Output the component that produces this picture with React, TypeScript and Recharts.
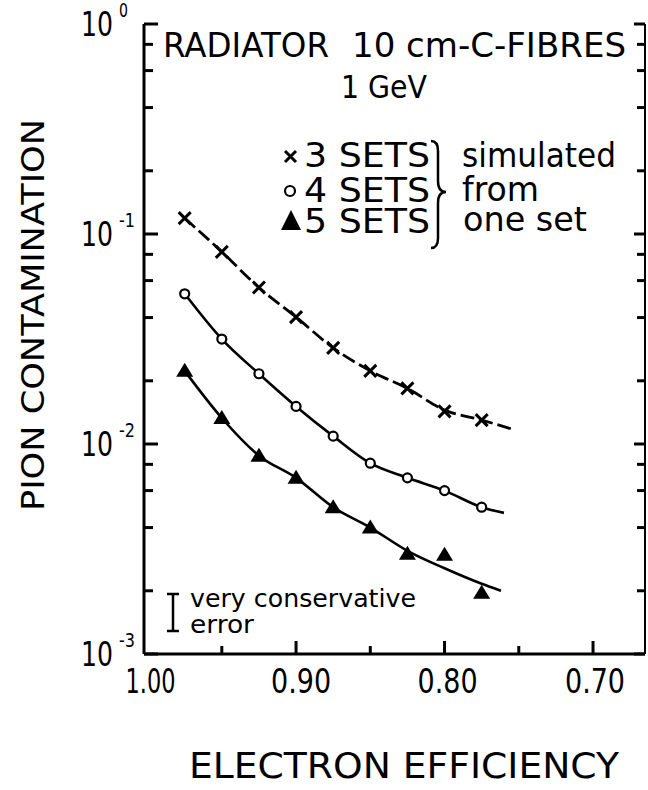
import { ComposedChart, Line, Scatter, XAxis, YAxis } from 'recharts';

// electron efficiency of the measured points
const efficiency = [0.975, 0.95, 0.925, 0.9, 0.875, 0.85, 0.825, 0.8, 0.775];

// pion contamination
const sets3 = [0.119, 0.0822, 0.0556, 0.0402, 0.0287, 0.0223, 0.0184, 0.0143, 0.013];
const sets4 = [0.0519, 0.0316, 0.0216, 0.0151, 0.0109, 0.0081, 0.0069, 0.006, 0.005];
const sets5 = [0.0223, 0.0133, 0.0088, 0.0069, 0.005, 0.004, 0.003, 0.00297, 0.00196];

// hand drawn fit curves
const fitEff3 = [0.975, 0.95, 0.925, 0.9, 0.875, 0.85, 0.825, 0.8, 0.775, 0.755];
const fit3 = [0.119, 0.0822, 0.0556, 0.0402, 0.0287, 0.0223, 0.0184, 0.0145, 0.013, 0.0118];
const fitEff4 = [0.975, 0.95, 0.925, 0.9, 0.875, 0.85, 0.825, 0.8, 0.775, 0.76];
const fit4 = [0.0519, 0.0316, 0.0216, 0.0151, 0.0109, 0.0081, 0.0069, 0.006, 0.005, 0.0047];
const fitEff5 = [0.975, 0.95, 0.925, 0.9, 0.875, 0.85, 0.825, 0.8, 0.775, 0.762];
const fit5 = [0.0223, 0.0133, 0.0088, 0.0069, 0.005, 0.004, 0.0031, 0.00256, 0.00216, 0.002];

const yTicks = [1, 0.8, 0.6, 0.4, 0.2, 0.1, 0.08, 0.06, 0.04, 0.02, 0.01, 0.008, 0.006, 0.004, 0.002, 0.001];
const yMajor = [1, 0.1, 0.01, 0.001];
const yExponents = ['0', '-1', '-2', '-3'];
const xTicks = [1.0, 0.95, 0.9, 0.85, 0.8, 0.75, 0.7];
const xMajor = [1.0, 0.9, 0.8, 0.7];
const xLabels = ['1.00', '0.90', '0.80', '0.70'];

const FONT = 'DejaVu Sans';

const pts = (xs: number[], ys: number[]) => xs.map((x, i) => ({ x, y: ys[i] }));
const idx = (arr: number[], v: number) => arr.findIndex((a) => Math.abs(a - v) < 1e-9);

function LeftTick({ x, y, payload }: any) {
  const i = idx(yMajor, payload.value);
  const major = i >= 0;
  const exp = yExponents[i] || '';
  return (
    <g>
      <line x1={x} x2={x + (major ? 14 : 9)} y1={y} y2={y} stroke="#000" strokeWidth={3} />
      {major && (
        <text x={x - 63} y={y + 12} fontFamily={FONT}>
          <tspan fontSize={34} textLength={32} lengthAdjust="spacingAndGlyphs">10</tspan>
          <tspan dx={6} dy={-19} fontSize={19} textLength={exp.length > 1 ? 16 : 9} lengthAdjust="spacingAndGlyphs">{exp}</tspan>
        </text>
      )}
    </g>
  );
}

function RightTick({ x, y, payload }: any) {
  const major = idx(yMajor, payload.value) >= 0;
  return <line x1={x} x2={x - (major ? 11 : 8)} y1={y} y2={y} stroke="#000" strokeWidth={3} />;
}

function BottomTick({ x, y, payload }: any) {
  const i = idx(xMajor, payload.value);
  const major = i >= 0;
  const shift = [3, 5, 3, 2][i] || 0;
  return (
    <g>
      {payload.value < 0.999 && (
        <line x1={x} x2={x} y1={y} y2={y - (major ? 13 : 8)} stroke="#000" strokeWidth={3} />
      )}
      {major && (
        <text x={x + shift} y={y + 39} textAnchor="middle" fontSize={34} fontFamily={FONT} textLength={i === 0 ? 50 : 60} lengthAdjust="spacingAndGlyphs">
          {xLabels[i]}
        </text>
      )}
    </g>
  );
}

const Cross = ({ cx, cy }: any) => (
  <path d={`M${cx - 6},${cy - 6}L${cx + 6},${cy + 6}M${cx - 6},${cy + 6}L${cx + 6},${cy - 6}`} stroke="#000" strokeWidth={3} />
);
const Ring = ({ cx, cy }: any) => <circle cx={cx} cy={cy} r={4.5} fill="#fff" stroke="#000" strokeWidth={2.2} />;
const Tri = ({ cx, cy }: any) => (
  <path d={`M${cx},${cy - 8}L${cx + 8.5},${cy + 6}L${cx - 8.5},${cy + 6}Z`} fill="#000" />
);

export default function App() {
  return (
    <div style={{ position: 'absolute', left: 0, top: 0, width: 648, height: 790, background: '#fff' }}>
      <ComposedChart width={648} height={790} margin={{ top: 24, right: 0, left: 84, bottom: 96 }}>
        <XAxis
          dataKey="x"
          type="number"
          domain={[0.665, 1.0024]}
          reversed
          allowDataOverflow
          ticks={xTicks}
          interval={0}
          height={40}
          tickSize={0}
          tickMargin={0}
          tick={<BottomTick />}
          axisLine={{ stroke: '#000', strokeWidth: 3 }}
        />
        <XAxis
          xAxisId="top"
          orientation="top"
          type="number"
          domain={[0.665, 1.0024]}
          reversed
          height={0}
          tick={false}
          tickLine={false}
          axisLine={{ stroke: '#000', strokeWidth: 3 }}
        />
        <YAxis
          type="number"
          scale="log"
          domain={[0.001, 1]}
          allowDataOverflow
          ticks={yTicks}
          interval={0}
          width={60}
          tickSize={0}
          tickMargin={0}
          tick={<LeftTick />}
          axisLine={{ stroke: '#000', strokeWidth: 3 }}
        />
        <YAxis
          yAxisId="right"
          orientation="right"
          type="number"
          scale="log"
          domain={[0.001, 1]}
          allowDataOverflow
          ticks={yTicks}
          interval={0}
          width={3}
          tickSize={0}
          tickMargin={0}
          tick={<RightTick />}
          axisLine={{ stroke: '#000', strokeWidth: 2 }}
        />
        <Line data={pts(fitEff3, fit3)} dataKey="y" type="monotone" stroke="#000" strokeWidth={2.8} strokeDasharray="14 5" dot={false} isAnimationActive={false} />
        <Line data={pts(fitEff4, fit4)} dataKey="y" type="monotone" stroke="#000" strokeWidth={2.6} dot={false} isAnimationActive={false} />
        <Line data={pts(fitEff5, fit5)} dataKey="y" type="monotone" stroke="#000" strokeWidth={2.6} dot={false} isAnimationActive={false} />
        <Scatter data={pts(efficiency, sets3)} dataKey="y" shape={<Cross />} isAnimationActive={false} />
        <Scatter data={pts(efficiency, sets4)} dataKey="y" shape={<Ring />} isAnimationActive={false} />
        <Scatter data={pts(efficiency, sets5)} dataKey="y" shape={<Tri />} isAnimationActive={false} />
      </ComposedChart>

      <svg width={648} height={790} style={{ position: 'absolute', left: 0, top: 0, pointerEvents: 'none' }} fontFamily={FONT}>
        <text x={163} y={57} fontSize={33} textLength={166} lengthAdjust="spacingAndGlyphs">RADIATOR</text>
        <text x={352} y={57} fontSize={33} textLength={274} lengthAdjust="spacingAndGlyphs">10 cm-C-FIBRES</text>
        <text x={341} y={98} fontSize={32} textLength={86} lengthAdjust="spacingAndGlyphs">1 GeV</text>

        <path d="M285,151L296,162M285,162L296,151" stroke="#000" strokeWidth={3} />
        <circle cx={290} cy={191} r={5} fill="#fff" stroke="#000" strokeWidth={2.2} />
        <path d="M291,210L301,230L281,230Z" fill="#000" />
        <text x={304} y={167} fontSize={33} textLength={126} lengthAdjust="spacingAndGlyphs">3 SETS</text>
        <text x={304} y={202} fontSize={33} textLength={126} lengthAdjust="spacingAndGlyphs">4 SETS</text>
        <text x={304} y={233} fontSize={33} textLength={126} lengthAdjust="spacingAndGlyphs">5 SETS</text>
        <path d="M431,141Q438,141 438,151L438,181Q438,192 446,192Q438,192 438,203L438,238Q438,248 431,248" fill="none" stroke="#000" strokeWidth={2.5} />
        <text x={462} y={167} fontSize={33} textLength={154} lengthAdjust="spacingAndGlyphs">simulated</text>
        <text x={462} y={201} fontSize={33} textLength={77} lengthAdjust="spacingAndGlyphs">from</text>
        <text x={463} y={231} fontSize={33} textLength={124} lengthAdjust="spacingAndGlyphs">one set</text>

        <path d="M173,594L173,631M167,594L179,594M167,631L179,631" stroke="#000" strokeWidth={2.5} />
        <text x={190} y={607} fontSize={24} textLength={226} lengthAdjust="spacingAndGlyphs">very conservative</text>
        <text x={190} y={633} fontSize={24} textLength={64} lengthAdjust="spacingAndGlyphs">error</text>

        <text transform="rotate(-90)" x={-315} y={44} textAnchor="middle" fontSize={32} textLength={392} lengthAdjust="spacingAndGlyphs">PION CONTAMINATION</text>
        <text x={189} y={778} fontSize={35} textLength={430} lengthAdjust="spacingAndGlyphs">ELECTRON EFFICIENCY</text>
      </svg>
    </div>
  );
}
